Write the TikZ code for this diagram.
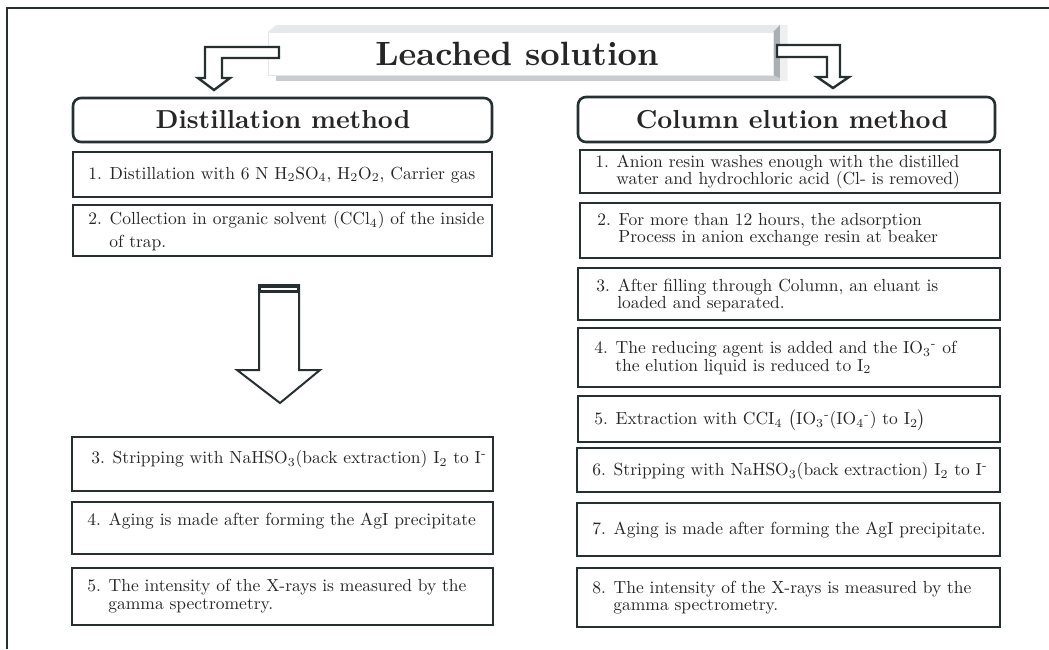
\documentclass[tikz,border=0pt]{standalone}
\usepackage{tikz}
\definecolor{ink}{RGB}{38,48,48}
\definecolor{topface}{RGB}{230,232,235}
\definecolor{sideface}{RGB}{170,175,180}
\definecolor{shadowg}{RGB}{200,204,208}
\begin{document}
\begin{tikzpicture}[x=1pt,y=-1pt,
  stepbox/.style={draw=ink, line width=2.8pt, fill=white},
  titlebox/.style={draw=ink, line width=2.6pt, fill=white, rounded corners=8pt},
  blockarrow/.style={draw=ink, line width=2.4pt, fill=white, line join=miter},
  txt/.style={anchor=west, inner sep=0pt, align=left, text=black!85, scale=1.75, font=\fontsize{10}{9.8}\selectfont},
  ttl/.style={inner sep=0pt, text=black!85, scale=2.6, font=\fontsize{10}{11}\selectfont\bfseries}
]
\useasboundingbox (0,0) rectangle (1049,649);
% frame
\draw[ink, line width=1.4pt] (7,649) -- (7,8) -- (1049,8);

% Leached solution 3D box
\fill[topface] (268,32) -- (276,25) -- (787,25) -- (773,32) -- cycle;
\fill[shadowg] (276,75) rectangle (787,81);
\fill[sideface] (773,32) -- (780,25) -- (787,25) -- (787,81) -- (773,75) -- cycle;
\fill[white!80!sideface] (780,25) rectangle (787,81);
\draw[fill=white, draw=topface, line width=0.8pt] (268,32) rectangle (773,75);
\node[ttl, scale=1.295] (leach) at (517,54) {Leached solution};

% bent arrows
\draw[blockarrow] (279,47) -- (205,47) -- (205,78) -- (198,78) -- (214,90) -- (230,78) -- (222,78) -- (222,58) -- (279,58) -- cycle;
\draw[blockarrow] (777,45) -- (840,45) -- (840,77) -- (849,77) -- (833,88) -- (817,77) -- (827,77) -- (827,57) -- (777,57) -- cycle;

% titles
\draw[titlebox] (73,98) rectangle (492,142);
\node[ttl] (dist) at (283,120) {Distillation method};
\draw[titlebox] (578,97) rectangle (995,142);
\node[ttl] (col) at (792,120) {Column elution method};

% left column
\draw[stepbox] (73,152) rectangle (492,197);
\node[txt] (l1) at (88,175) {1. Distillation with 6 N H$_2$SO$_4$, H$_2$O$_2$, Carrier gas};
\draw[stepbox] (73,205) rectangle (492,256);
\node[txt, font=\fontsize{10}{13.1}\selectfont] (l2) at (88,231) {2. Collection in organic solvent (CCl$_4$) of the inside\\\hspace*{1.2em}of trap.};

% big down arrow
\draw[draw=ink, line width=2pt, fill=white, line join=miter] (259,285) -- (299,285) -- (299,370) -- (320,370) -- (280,403) -- (237,370) -- (259,370) -- cycle;
\fill[ink] (259,285) rectangle (299,293);
\draw[white, line width=1.2pt] (261,289) -- (297,289);

\draw[stepbox] (72,437) rectangle (493,491);
\node[txt] (l3) at (91,459) {3. Stripping with NaHSO$_3$(back extraction) I$_2$ to I\textsuperscript{-}};
\draw[stepbox] (72,502) rectangle (493,554);
\node[txt] (l4) at (87,521) {4. Aging is made after forming the AgI precipitate};
\draw[stepbox] (72,568) rectangle (493,625);
\node[txt, font=\fontsize{10}{10.3}\selectfont] (l5) at (87,596) {5. The intensity of the X-rays is measured by the\\\hspace*{1.2em}gamma spectrometry.};

% right column
\draw[stepbox] (580,150) rectangle (1000,193);
\node[txt] (r1) at (595,172) {1. Anion resin washes enough with the distilled\\\hspace*{1.2em}water and hydrochloric acid (Cl- is removed)};
\draw[stepbox] (580,203) rectangle (1000,258);
\node[txt] (r2) at (597,230) {2. For more than 12 hours, the adsorption\\\hspace*{1.2em}Process in anion exchange resin at beaker};
\draw[stepbox] (578,268) rectangle (1000,320);
\node[txt] (r3) at (596,295) {3. After filling through Column, an eluant is\\\hspace*{1.2em}loaded and separated.};
\draw[stepbox] (578,328) rectangle (1000,387);
\node[txt] (r4) at (594,358) {4. The reducing agent is added and the IO$_3$\textsuperscript{-} of\\\hspace*{1.2em}the elution liquid is reduced to I$_2$};
\draw[stepbox] (578,396) rectangle (1000,442);
\node[txt] (r5) at (594,420) {5. Extraction with CCI$_4$ $\big($IO$_3$\textsuperscript{-}(IO$_4$\textsuperscript{-}) to I$_2\big)$};
\draw[stepbox] (577,448) rectangle (1000,492);
\node[txt] (r6) at (592,471) {6. Stripping with NaHSO$_3$(back extraction) I$_2$ to I\textsuperscript{-}};
\draw[stepbox] (577,503) rectangle (1000,556);
\node[txt] (r7) at (592,530) {7. Aging is made after forming the AgI precipitate.};
\draw[stepbox] (577,568) rectangle (1000,627);
\node[txt] (r8) at (592,598) {8. The intensity of the X-rays is measured by the\\\hspace*{1.2em}gamma spectrometry.};
\end{tikzpicture}
\end{document}
